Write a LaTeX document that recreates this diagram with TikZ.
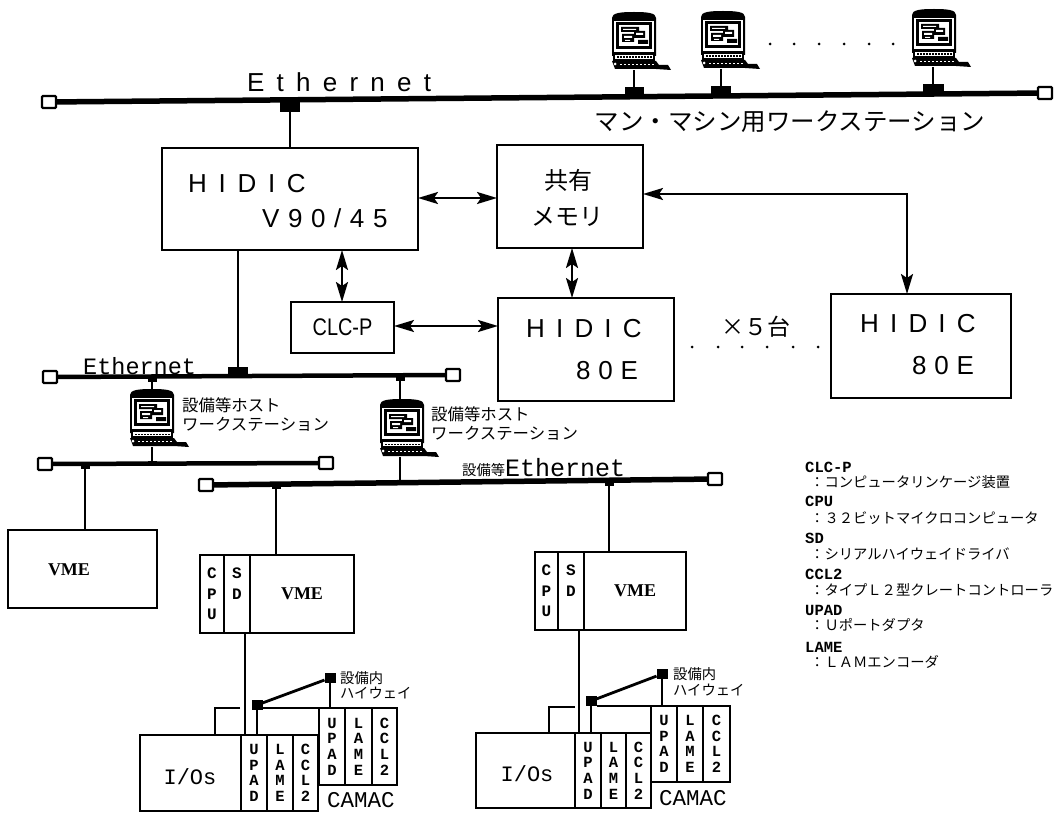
\documentclass[tikz,border=0pt]{standalone}
\usepackage{fontspec}
\setmainfont{Liberation Sans}
\newfontfamily\jpf{Noto Sans CJK JP}
\newfontfamily\monof{Liberation Mono}
\newfontfamily\serf{Liberation Serif}
\usetikzlibrary{arrows.meta}
\newcommand\fsz[1]{\fontsize{#1}{#1}\selectfont}
\tikzset{
 box/.style={draw,line width=2,fill=white,anchor=north west,inner sep=0,outer sep=0},
 cell/.style={draw,line width=1.4,anchor=north west,inner sep=0,outer sep=0,align=center,font=\monof\bfseries\fontsize{15.5}{15.6}\selectfont},
 cellv/.style={cell,font=\monof\bfseries\fontsize{16}{20.5}\selectfont},
 busend/.style={draw,line width=2.4,fill=white,rounded corners=1,minimum width=14,minimum height=12,inner sep=0,outer sep=0},
 bus/.style={line width=5.5},
 busb/.style={line width=4.5},
 wire/.style={line width=2},
 thinw/.style={line width=1.3},
 link/.style={line width=2.2,{Stealth[length=20pt,width=12pt,inset=4pt]}-{Stealth[length=20pt,width=12pt,inset=4pt]}},
 blk/.style={fill=black,inner sep=0,outer sep=0,minimum width=#1,minimum height=10},
 junc/.style={fill=black,inner sep=0,outer sep=0,minimum width=9,minimum height=5},
 sq/.style={fill=black,inner sep=0,outer sep=0,minimum width=11,minimum height=10},
 txt/.style={inner sep=0,anchor=west},
 ctr/.style={inner sep=0,anchor=center},
 wsframe/.style={inner sep=0,outer sep=0,minimum width=60,minimum height=58},
 ws/.pic={
  \fill (0,6) .. controls (0,1) and (8,0) .. (22,0) .. controls (36,0) and (44,1) .. (44,6) -- (44,44) -- (0,44) -- cycle;
  \fill[white] (2,9) rectangle (42,40);
  \fill (4,10) rectangle (40,37);
  \fill[white] (7,13) rectangle (37,34);
  \fill (9,15) rectangle (27,20) (10,22) rectangle (22,30) (22,19) rectangle (33,26) (26,28) rectangle (36,32);
  \fill[white] (12,24) rectangle (20,26) (24,21) rectangle (31,23) (11,17) rectangle (24,18) (13,28) rectangle (18,29);
  \fill (1,40) rectangle (43,52);
  \fill[white] (3,43) rectangle (41,47);
  \foreach \q in {5,8,...,38}{\fill (\q,44.5) rectangle ++(1.5,1.2);}
  \fill (0,49) -- (44,49) -- (47,53) -- (56,53) -- (59,58) -- (44,57) -- (3,57) -- cycle;
  \fill[white] (3,52) circle (1.5);
  \foreach \q in {8,12,...,40}{\fill[white] (\q,52) rectangle ++(2,1.2);}
 }
}
\begin{document}
\begin{tikzpicture}[x=1pt,y=-1pt]
\useasboundingbox[fill=white] (0,0) rectangle (1054,813);

% top Ethernet
\node[busend] (e1l) at (49,102) {};
\node[busend] (e1r) at (1045,93) {};
\draw[bus] (e1l) -- (e1r);
\node[blk=20] (t0) at (290,107) {};
\node[blk=19] (t1) at (634,92) {};
\node[blk=20] (t2) at (721,91) {};
\node[blk=21] (t3) at (933,89) {};
\node[wsframe] (w1) at (642,41) {};
\node[wsframe] (w2) at (731,40) {};
\node[wsframe] (w3) at (942,38) {};
\pic at (w1.north west) {ws};
\pic at (w2.north west) {ws};
\pic at (w3.north west) {ws};
\draw[wire] (t1) -- (t1 |- w1.south);
\draw[wire] (t2) -- (t2 |- w2.south);
\draw[wire] (t3) -- (t3 |- w3.south);
\foreach \q in {770,794,819,844,869,893}{\fill (\q,44) circle (1.5);}
\node[txt,font=\fsz{26}\addfontfeatures{LetterSpace=47}] (lab1) at (247,82) {Ethernet};
\node[ctr,font=\jpf\fsz{24.5}] (lab2) at (790,122) {マン・マシン用ワークステーション};

% main boxes
\node[box,minimum width=256,minimum height=102] (v90) at (162,148) {};
\node[txt,font=\fsz{26}\addfontfeatures{LetterSpace=45}] at (188,184) {HIDIC};
\node[txt,font=\fsz{26}\addfontfeatures{LetterSpace=33}] at (262,218) {V90/45};
\node[box,minimum width=146,minimum height=103] (mem) at (497,145) {};
\node[ctr,font=\jpf\fsz{24}] at (568,180) {共有};
\node[ctr,font=\jpf\fsz{24}] at (567,217) {メモリ};
\node[box,line width=1.5,minimum width=103,minimum height=51,font=\fsz{24}] (clc) at (291,302) {\scalebox{0.83}[1]{CLC-P}};
\node[box,minimum width=176,minimum height=103] (h1) at (498,298) {};
\node[txt,font=\fsz{26}\addfontfeatures{LetterSpace=43}] at (526,329) {HIDIC};
\node[txt,font=\fsz{26}\addfontfeatures{LetterSpace=30}] at (576,371) {80E};
\node[box,minimum width=180,minimum height=104] (h2) at (831,294) {};
\node[txt,font=\fsz{26}\addfontfeatures{LetterSpace=43}] at (860,324) {HIDIC};
\node[txt,font=\fsz{26}\addfontfeatures{LetterSpace=30}] at (912,366) {80E};
\node[ctr,font=\jpf\fsz{23}] at (756,327) {×５台};
\foreach \q in {692,718,742,767,793,818}{\fill (\q,347) circle (1.5);}

\draw[wire] (t0) -- (t0 |- v90.north);
\coordinate (a1) at (418,198);
\draw[link] (a1) -- (a1 -| mem.west);
\coordinate (a2) at (342,250);
\draw[link] (a2) -- (a2 |- clc.north);
\coordinate (a3) at (572,248);
\draw[link] (a3) -- (a3 |- h1.north);
\coordinate (a4) at (394,326);
\draw[link] (a4) -- (a4 -| h1.west);
\coordinate (a5) at (643,194);
\coordinate (a6) at (907,294);
\draw[link] (a5) -| (a6);

% second Ethernet
\node[busend] (e2l) at (50,377) {};
\node[busend] (e2r) at (453,375) {};
\draw[busb] (e2l) -- (e2r);
\node[blk=20] (t4) at (238,372) {};
\draw[wire] (238,250) -- (t4);
\node[txt,font=\monof\fsz{23.5}] at (83,366) {Ethernet};
\node[junc] (j1) at (152,379) {};
\node[junc] (j2) at (400,378) {};
\node[wsframe] (w4) at (160,418) {};
\node[wsframe] (w5) at (410,428) {};
\pic at (w4.north west) {ws};
\pic at (w5.north west) {ws};
\draw[wire] (j1) -- (j1 |- w4.north);
\draw[wire] (j2) -- (j2 |- w5.north);
\node[txt,font=\jpf\fsz{16.4}] at (182,405) {設備等ホスト};
\node[txt,font=\jpf\fsz{16.4}] at (182,424) {ワークステーション};
\node[txt,font=\jpf\fsz{16.4}] at (431,414) {設備等ホスト};
\node[txt,font=\jpf\fsz{16.4}] at (431,433) {ワークステーション};

% third Ethernet and left VME
\node[busend] (e3l) at (45,464) {};
\node[busend] (e3r) at (326,463) {};
\draw[busb] (e3l) -- (e3r);
\node[junc] (j3) at (85,466) {};
\node[junc] (j4) at (152,463) {};
\draw[wire] (j4) -- (j4 |- w4.south);
\node[box,minimum width=149,minimum height=78] (vm0) at (8,530) {};
\node[ctr,font=\serf\bfseries\fsz{18}] at (69,570) {VME};
\draw[wire] (j3) -- (j3 |- vm0.north);

% fourth Ethernet
\node[busend] (e4l) at (206,485) {};
\node[busend] (e4r) at (715,479) {};
\draw[bus] (e4l) -- (e4r);
\node[junc] (j5) at (276,486) {};
\node[junc] (j6) at (609,483) {};
\node[junc] (j7) at (400,482) {};
\draw[wire] (j7) -- (j7 |- w5.south);
\node[txt,font=\jpf\fsz{14.3}] at (462,470) {設備等};
\node[txt,font=\monof\fsz{25}] at (505,468) {Ethernet};

% left VME system
\node[cellv,line width=2,minimum width=24,minimum height=78] (lc) at (200,555) {C\\P\\U};
\node[cellv,line width=2,minimum width=26,minimum height=78] (ls) at (224,555) {S\\D\\\ };
\node[cell,line width=2,minimum width=104,minimum height=78] (lv) at (250,555) {};
\node[ctr,font=\serf\bfseries\fsz{18}] at (302,594) {VME};
\draw[wire] (j5) -- (276,555);
\node[cell,line width=2,minimum width=101,minimum height=76] (li) at (140,735) {};
\node[ctr,font=\monof\fsz{22}] at (190,777) {I/Os};
\node[cell,minimum width=26,minimum height=76] (lu) at (241,735) {U\\P\\A\\D};
\node[cell,minimum width=26,minimum height=76] (ll) at (267,735) {L\\A\\M\\E};
\node[cell,minimum width=25,minimum height=76] (lk) at (293,735) {C\\C\\L\\2};
\node[cell,minimum width=26,minimum height=77] (cu) at (319,708) {U\\P\\A\\D};
\node[cell,minimum width=27,minimum height=77] (cl) at (345,708) {L\\A\\M\\E};
\node[cell,minimum width=25,minimum height=77] (ck) at (372,708) {C\\C\\L\\2};
\node[ctr,anchor=west,font=\monof\fsz{22.5}] at (327,800) {CAMAC};
\node[sq] (s1) at (257,705) {};
\node[sq] (s2) at (330,678) {};
\draw[line width=2.8] (s1) -- (s2);
\draw[wire] (s1.east) ++(0,3) -- (ck.north east);
\draw[thinw] (s2) -- (s2 |- cu.north);
\draw[thinw] (245,633) -- (245 ,735);
\draw[wire] (s1) -- (s1 |- lu.north);
\coordinate (b1) at (240,708);
\coordinate (b2) at (215,735);
\draw[wire] (b1) -| (b2);
\node[txt,font=\jpf\fsz{14.3}] at (340,678) {設備内};
\node[txt,font=\jpf\fsz{14.3}] at (340,693) {ハイウェイ};

% right VME system
\node[cellv,line width=2,minimum width=23,minimum height=78] (rc) at (535,552) {C\\P\\U};
\node[cellv,line width=2,minimum width=26,minimum height=78] (rs) at (558,552) {S\\D\\\ };
\node[cell,line width=2,minimum width=102,minimum height=78] (rv) at (584,552) {};
\node[ctr,font=\serf\bfseries\fsz{18}] at (635,591) {VME};
\draw[wire] (j6) -- (609,552);
\node[cell,line width=2,minimum width=99,minimum height=75] (ri) at (476,733) {};
\node[ctr,font=\monof\fsz{22}] at (527,774) {I/Os};
\node[cell,minimum width=26,minimum height=75] (ru) at (575,733) {U\\P\\A\\D};
\node[cell,minimum width=25,minimum height=75] (rl) at (601,733) {L\\A\\M\\E};
\node[cell,minimum width=25,minimum height=75] (rk) at (626,733) {C\\C\\L\\2};
\node[cell,minimum width=26,minimum height=76] (du) at (651,706) {U\\P\\A\\D};
\node[cell,minimum width=26,minimum height=76] (dl) at (677,706) {L\\A\\M\\E};
\node[cell,minimum width=27,minimum height=76] (dk) at (703,706) {C\\C\\L\\2};
\node[anchor=west,inner sep=0,font=\monof\fsz{22.5}] at (659,798) {CAMAC};
\node[sq] (s3) at (591,701) {};
\node[sq] (s4) at (662,674) {};
\draw[line width=2.8] (s3) -- (s4);
\draw[wire] (s3.east) ++(0,5) -- (dk.north east);
\draw[thinw] (s4) -- (s4 |- du.north);
\draw[thinw] (579,630) -- (579,733);
\draw[wire] (s3) -- (s3 |- ru.north);
\coordinate (b3) at (575,707);
\coordinate (b4) at (549,733);
\draw[wire] (b3) -| (b4);
\node[txt,font=\jpf\fsz{14.3}] at (673,674) {設備内};
\node[txt,font=\jpf\fsz{14.3}] at (673,690) {ハイウェイ};

% legend
\tikzset{lgk/.style={txt,font=\monof\bfseries\fsz{15.5}},lgv/.style={txt,font=\jpf\fsz{14.3}}}
\node[lgk] at (805,467) {CLC-P};
\node[lgv] at (810,482) {：コンピュータリンケージ装置};
\node[lgk] at (805,501) {CPU};
\node[lgv] at (810,518) {：３２ビットマイクロコンピュータ};
\node[lgk] at (805,538) {SD};
\node[lgv] at (810,554) {：シリアルハイウェイドライバ};
\node[lgk] at (805,574) {CCL2};
\node[lgv] at (810,590) {：タイプＬ２型クレートコントローラ};
\node[lgk] at (805,610) {UPAD};
\node[lgv] at (810,625) {：Ｕポートダプタ};
\node[lgk] at (805,647) {LAME};
\node[lgv] at (810,662) {：ＬＡＭエンコーダ};
\end{tikzpicture}
\end{document}
